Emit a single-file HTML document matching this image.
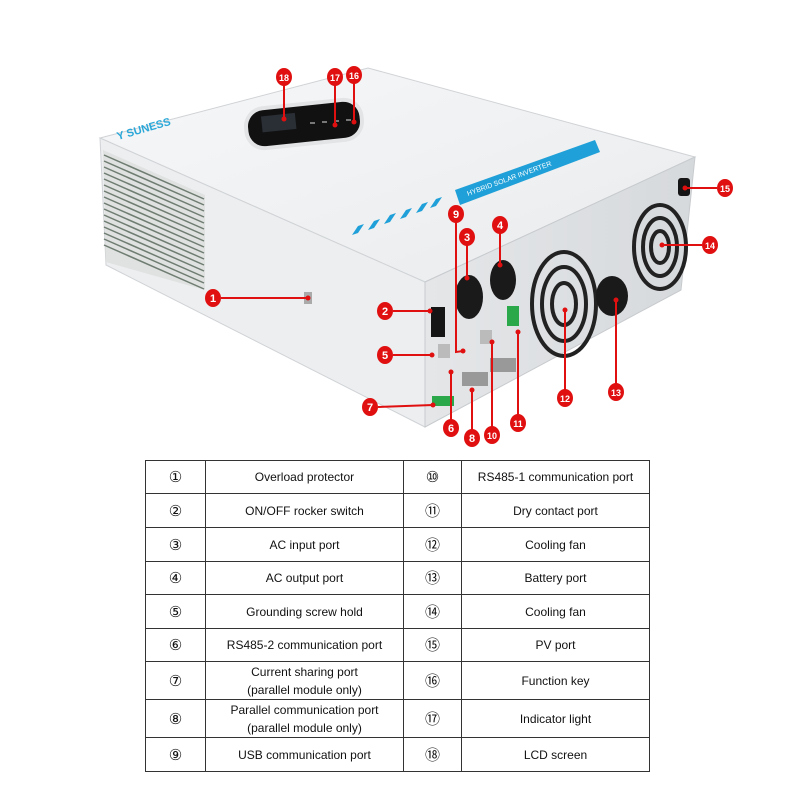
<!DOCTYPE html>
<html><head><meta charset="utf-8"><style>
html,body{margin:0;padding:0;background:#fff;width:800px;height:800px;overflow:hidden}
svg{position:absolute;left:0;top:0}
table{position:absolute;left:145px;top:460px;border-collapse:collapse;font-family:"Liberation Sans","DejaVu Sans",sans-serif;font-size:12px;color:#111}
td{border:1px solid #333;text-align:center;padding:0;line-height:18px}
td.n{font-size:15px;font-family:"DejaVu Sans","Liberation Sans",sans-serif}
</style></head><body>
<svg width="800" height="460" viewBox="0 0 800 460">
<defs>
<linearGradient id="tg" x1="0" y1="0" x2="1" y2="1"><stop offset="0" stop-color="#f6f7f8"/><stop offset="1" stop-color="#e9ebed"/></linearGradient>
<linearGradient id="rg" x1="0" y1="0" x2="1" y2="0"><stop offset="0" stop-color="#e4e6e8"/><stop offset="1" stop-color="#d6d9dc"/></linearGradient>
</defs>
<polygon points="100,138 368,68 695,157 425,282" fill="url(#tg)" stroke="#d0d3d6"/>
<polygon points="100,138 425,282 425,427 106,265" fill="#eceef0" stroke="#d0d3d6"/>
<polygon points="425,282 695,157 681,290 425,427" fill="url(#rg)" stroke="#c8cbce"/>
<polygon points="103,150 205,195 205,290 106,262" fill="#dfe2e0"/>
<g stroke="#6f7c72" stroke-width="1.5">
<line x1="104" y1="155" x2="204" y2="199"/><line x1="104" y1="161" x2="204" y2="205"/><line x1="104" y1="167" x2="204" y2="211"/><line x1="104" y1="173" x2="204" y2="217"/><line x1="104" y1="179" x2="204" y2="223"/><line x1="104" y1="185" x2="204" y2="229"/><line x1="104" y1="191" x2="204" y2="235"/><line x1="104" y1="197" x2="204" y2="241"/><line x1="104" y1="203" x2="204" y2="247"/><line x1="104" y1="209" x2="204" y2="253"/><line x1="104" y1="215" x2="204" y2="259"/><line x1="104" y1="221" x2="204" y2="265"/><line x1="104" y1="227" x2="204" y2="271"/><line x1="104" y1="233" x2="204" y2="277"/><line x1="104" y1="239" x2="204" y2="283"/><line x1="104" y1="245" x2="204" y2="289"/>
</g>
<rect x="244" y="102" width="120" height="44" rx="20" fill="#e2e4e6" transform="rotate(-6 304 124)"/>
<rect x="248" y="106" width="112" height="36" rx="16" fill="#111" transform="rotate(-6 304 124)"/>
<rect x="262" y="112" width="34" height="16" fill="#2a2f36" transform="rotate(-6 304 124)"/>
<g fill="#777"><rect x="310" y="122" width="5" height="2"/><rect x="322" y="121" width="5" height="2"/><rect x="334" y="120" width="5" height="2"/><rect x="346" y="119" width="5" height="2"/></g>
<text x="118" y="140" font-family="Liberation Sans,sans-serif" font-size="11" font-weight="bold" fill="#2aa7d8" transform="rotate(-16 118 140)">Y SUNESS</text>
<polygon points="455,190 595,140 600,152 460,205" fill="#1fa0d8"/>
<text x="468" y="196" font-family="Liberation Sans,sans-serif" font-size="7" fill="#fff" transform="rotate(-20 468 196)">HYBRID SOLAR INVERTER</text>
<g fill="#1fa0d8"><polygon points="352,235 358,226 364,224 358,233"/><polygon points="368,230 374,221 380,219 374,228"/><polygon points="384,224 390,215 396,213 390,222"/><polygon points="400,219 406,210 412,208 406,217"/><polygon points="416,213 422,204 428,202 422,211"/><polygon points="430,208 436,199 442,197 436,206"/></g>
<g fill="none" stroke="#222" stroke-width="4">
<ellipse cx="564" cy="304" rx="32" ry="52"/><ellipse cx="564" cy="304" rx="22" ry="37"/><ellipse cx="564" cy="304" rx="12" ry="21"/>
<ellipse cx="660" cy="247" rx="26" ry="42"/><ellipse cx="660" cy="247" rx="17" ry="29"/><ellipse cx="660" cy="247" rx="9" ry="16"/>
</g>
<ellipse cx="469" cy="297" rx="14" ry="22" fill="#1a1a1a"/>
<ellipse cx="503" cy="280" rx="13" ry="20" fill="#1a1a1a"/>
<ellipse cx="612" cy="296" rx="16" ry="20" fill="#1a1a1a"/>
<rect x="431" y="307" width="14" height="30" fill="#151515"/>
<rect x="678" y="178" width="12" height="18" rx="3" fill="#151515"/>
<rect x="507" y="306" width="12" height="20" fill="#2aa84a"/>
<rect x="432" y="396" width="22" height="10" fill="#2aa84a"/>
<rect x="438" y="344" width="12" height="14" fill="#bbb"/><rect x="480" y="330" width="12" height="14" fill="#bbb"/>
<rect x="462" y="372" width="26" height="14" fill="#999"/><rect x="490" y="358" width="26" height="14" fill="#999"/>
<rect x="304" y="292" width="8" height="12" fill="#aaa"/>
<g stroke="#e01010" stroke-width="2">
<line x1="284" y1="85" x2="284" y2="119"/><line x1="335" y1="85" x2="335" y2="125"/><line x1="354" y1="83" x2="354" y2="122"/>
<line x1="717" y1="188" x2="685" y2="188"/><line x1="702" y1="245" x2="662" y2="245"/>
<line x1="221" y1="298" x2="308" y2="298"/><line x1="393" y1="311" x2="430" y2="311"/>
<line x1="467" y1="245" x2="467" y2="278"/><line x1="500" y1="233" x2="500" y2="265"/>
<polyline points="456,222 456,352 463,351" fill="none"/>
<line x1="393" y1="355" x2="432" y2="355"/><line x1="378" y1="407" x2="433" y2="405"/>
<line x1="451" y1="420" x2="451" y2="372"/><line x1="472" y1="430" x2="472" y2="390"/>
<line x1="492" y1="427" x2="492" y2="342"/><line x1="518" y1="415" x2="518" y2="332"/>
<line x1="565" y1="390" x2="565" y2="310"/><line x1="616" y1="384" x2="616" y2="300"/>
</g>
<g fill="#e01010">
<circle cx="284" cy="119" r="2.5"/><circle cx="335" cy="125" r="2.5"/><circle cx="354" cy="122" r="2.5"/><circle cx="685" cy="188" r="2.5"/><circle cx="662" cy="245" r="2.5"/><circle cx="308" cy="298" r="2.5"/><circle cx="430" cy="311" r="2.5"/><circle cx="467" cy="278" r="2.5"/><circle cx="500" cy="265" r="2.5"/><circle cx="463" cy="351" r="2.5"/><circle cx="432" cy="355" r="2.5"/><circle cx="433" cy="405" r="2.5"/><circle cx="451" cy="372" r="2.5"/><circle cx="472" cy="390" r="2.5"/><circle cx="492" cy="342" r="2.5"/><circle cx="518" cy="332" r="2.5"/><circle cx="565" cy="310" r="2.5"/><circle cx="616" cy="300" r="2.5"/>
<ellipse cx="284" cy="77" rx="8" ry="9"/><ellipse cx="335" cy="77" rx="8" ry="9"/><ellipse cx="354" cy="75" rx="8" ry="9"/><ellipse cx="725" cy="188" rx="8" ry="9"/><ellipse cx="710" cy="245" rx="8" ry="9"/><ellipse cx="213" cy="298" rx="8" ry="9"/><ellipse cx="385" cy="311" rx="8" ry="9"/><ellipse cx="467" cy="237" rx="8" ry="9"/><ellipse cx="500" cy="225" rx="8" ry="9"/><ellipse cx="456" cy="214" rx="8" ry="9"/><ellipse cx="385" cy="355" rx="8" ry="9"/><ellipse cx="370" cy="407" rx="8" ry="9"/><ellipse cx="451" cy="428" rx="8" ry="9"/><ellipse cx="472" cy="438" rx="8" ry="9"/><ellipse cx="492" cy="435" rx="8" ry="9"/><ellipse cx="518" cy="423" rx="8" ry="9"/><ellipse cx="565" cy="398" rx="8" ry="9"/><ellipse cx="616" cy="392" rx="8" ry="9"/>
</g>
<g fill="#fff" font-family="Liberation Sans,sans-serif" font-weight="bold" font-size="11" text-anchor="middle">
<text x="284" y="81" font-size="9">18</text><text x="335" y="81" font-size="9">17</text><text x="354" y="79" font-size="9">16</text><text x="725" y="192" font-size="9">15</text><text x="710" y="249" font-size="9">14</text><text x="213" y="302">1</text><text x="385" y="315">2</text><text x="467" y="241">3</text><text x="500" y="229">4</text><text x="456" y="218">9</text><text x="385" y="359">5</text><text x="370" y="411">7</text><text x="451" y="432">6</text><text x="472" y="442">8</text><text x="492" y="439" font-size="9">10</text><text x="518" y="427" font-size="9">11</text><text x="565" y="402" font-size="9">12</text><text x="616" y="396" font-size="9">13</text>
</g>
</svg>
<table>
<colgroup><col style="width:60px"><col style="width:198px"><col style="width:58px"><col style="width:188px"></colgroup>
<tr style="height:33px"><td class="n">①</td><td>Overload protector</td><td class="n">⑩</td><td>RS485-1 communication port</td></tr>
<tr style="height:34px"><td class="n">②</td><td>ON/OFF rocker switch</td><td class="n">⑪</td><td>Dry contact port</td></tr>
<tr style="height:34px"><td class="n">③</td><td>AC input port</td><td class="n">⑫</td><td>Cooling fan</td></tr>
<tr style="height:33px"><td class="n">④</td><td>AC output port</td><td class="n">⑬</td><td>Battery port</td></tr>
<tr style="height:34px"><td class="n">⑤</td><td>Grounding screw hold</td><td class="n">⑭</td><td>Cooling fan</td></tr>
<tr style="height:33px"><td class="n">⑥</td><td>RS485-2 communication port</td><td class="n">⑮</td><td>PV port</td></tr>
<tr style="height:38px"><td class="n">⑦</td><td>Current sharing port<br>(parallel module only)</td><td class="n">⑯</td><td>Function key</td></tr>
<tr style="height:38px"><td class="n">⑧</td><td>Parallel communication port<br>(parallel module only)</td><td class="n">⑰</td><td>Indicator light</td></tr>
<tr style="height:34px"><td class="n">⑨</td><td>USB communication port</td><td class="n">⑱</td><td>LCD screen</td></tr>
</table>
</body></html>
